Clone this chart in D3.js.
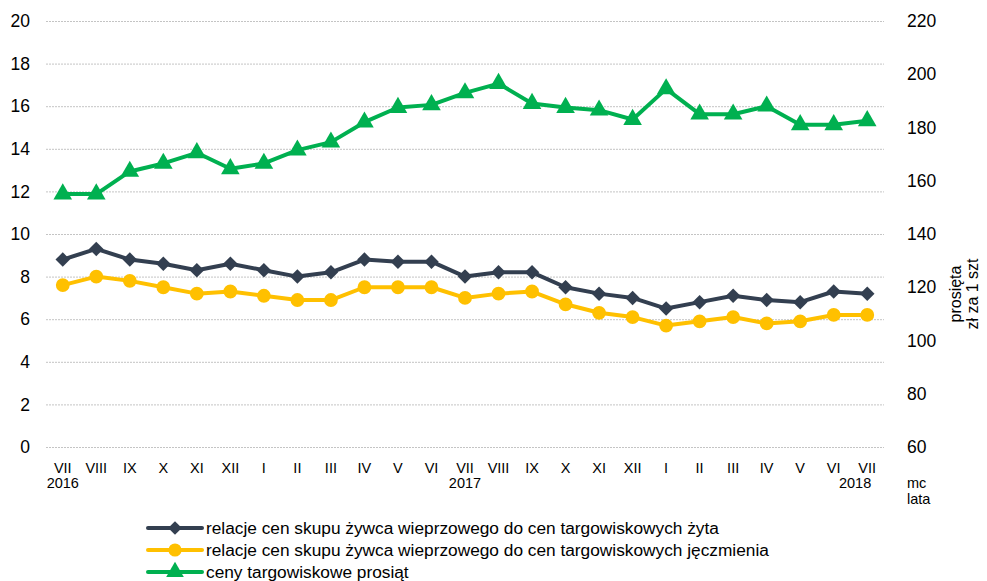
<!DOCTYPE html>
<html>
<head>
<meta charset="utf-8">
<script src="https://cdn.jsdelivr.net/npm/d3@7"></script>
<style>
  body { margin: 0; background: #fff; }
  svg { font-family: "Liberation Sans", Arial, sans-serif; }
</style>
</head>
<body>
<svg id="chart" width="987" height="581"></svg>
<script>
// Data
const months = ["VII","VIII","IX","X","XI","XII","I","II","III","IV","V","VI",
                "VII","VIII","IX","X","XI","XII","I","II","III","IV","V","VI","VII"];
const years = [{ idx: 0, label: "2016" }, { idx: 12, label: "2017" }, { idx: 24, label: "2018" }];

const rye = [8.8, 9.3, 8.8, 8.6, 8.3, 8.6, 8.3, 8.0, 8.2, 8.8, 8.7, 8.7,
             8.0, 8.2, 8.2, 7.5, 7.2, 7.0, 6.5, 6.8, 7.1, 6.9, 6.8, 7.3, 7.2];
const barley = [7.6, 8.0, 7.8, 7.5, 7.2, 7.3, 7.1, 6.9, 6.9, 7.5, 7.5, 7.5,
                7.0, 7.2, 7.3, 6.7, 6.3, 6.1, 5.7, 5.9, 6.1, 5.8, 5.9, 6.2, 6.2];
const piglets = [155, 155, 163.5, 166.5, 170.5, 164.5, 166.5, 171.5, 174.5, 182, 187.5, 188.5,
                 193, 196.5, 189, 187.5, 186.5, 183, 194.5, 185, 185, 188, 181, 181, 182.5];

const leftTicks = [0, 2, 4, 6, 8, 10, 12, 14, 16, 18, 20];
const rightTicks = [60, 80, 100, 120, 140, 160, 180, 200, 220];

const series = [
  { name: "relacje cen skupu żywca wieprzowego do cen targowiskowych żyta", values: rye, axis: "left", color: "#333F50", symbol: "diamond" },
  { name: "relacje cen skupu żywca wieprzowego do cen targowiskowych jęczmienia", values: barley, axis: "left", color: "#FFC000", symbol: "circle" },
  { name: "ceny targowiskowe prosiąt", values: piglets, axis: "right", color: "#00B050", symbol: "triangle" }
];

// marker shapes: diamond is a square turned 45 degrees
function marker(sel, type, scale) {
  if (type === "diamond") {
    sel.attr("d", d3.symbol().type(d3.symbolSquare).size(105 * scale))
      .attr("transform", function () { return d3.select(this).attr("transform") + " rotate(45)"; });
  } else if (type === "circle") {
    sel.attr("d", d3.symbol().type(d3.symbolCircle).size(150 * scale));
  } else {
    sel.attr("d", d3.symbol().type(d3.symbolTriangle).size(150 * scale));
  }
}

const svg = d3.select("#chart");
const margin = { left: 46, right: 884, top: 21, bottom: 447 };

const x = d3.scaleBand().domain(d3.range(months.length)).range([margin.left, margin.right]);
const yL = d3.scaleLinear().domain([0, 20]).range([margin.bottom, margin.top]);
const yR = d3.scaleLinear().domain([60, 220]).range([margin.bottom, margin.top]);
const cx = i => x(i) + x.bandwidth() / 2;

// gridlines
svg.append("g").selectAll("line").data(leftTicks).join("line")
  .attr("x1", margin.left).attr("x2", margin.right)
  .attr("y1", d => yL(d) + 0.5).attr("y2", d => yL(d) + 0.5)
  .attr("stroke", "#c4c4c4").attr("stroke-width", 1).attr("stroke-dasharray", "2,1");

// left axis
const gL = svg.append("g").attr("transform", `translate(${margin.left - 16},0)`)
  .call(d3.axisLeft(yL).tickValues(leftTicks).tickSize(0).tickPadding(0));
gL.select(".domain").remove();
gL.selectAll("text").attr("font-size", 17.5).attr("fill", "#000").attr("font-family", "Liberation Sans, Arial");

// right axis
const gR = svg.append("g").attr("transform", `translate(${margin.right + 23},0)`)
  .call(d3.axisRight(yR).tickValues(rightTicks).tickSize(0).tickPadding(0));
gR.select(".domain").remove();
gR.selectAll("text").attr("font-size", 17.5).attr("fill", "#000").attr("font-family", "Liberation Sans, Arial");

// x axis labels
const gX = svg.append("g").attr("font-size", 14.5).attr("fill", "#000");
gX.selectAll("text.m").data(months).join("text")
  .attr("class", "m").attr("x", (d, i) => cx(i)).attr("y", 473)
  .attr("text-anchor", "middle").text(d => d);
gX.selectAll("text.y").data(years).join("text")
  .attr("class", "y").attr("x", d => d.idx === months.length - 1 ? cx(d.idx) + 4 : cx(d.idx))
  .attr("y", 488)
  .attr("text-anchor", d => d.idx === months.length - 1 ? "end" : "middle").text(d => d.label);
gX.append("text").attr("x", 907).attr("y", 488).text("mc");
gX.append("text").attr("x", 907).attr("y", 504).text("lata");

// right axis title
const title = svg.append("text").attr("font-size", 16).attr("fill", "#000")
  .attr("transform", "translate(961,294) rotate(-90)").attr("text-anchor", "middle");
title.append("tspan").attr("x", 0).attr("dy", 0).text("prosięta");
title.append("tspan").attr("x", 0).attr("dy", 17).text("zł za 1 szt");

// series
series.forEach(s => {
  const y = s.axis === "left" ? yL : yR;
  const line = d3.line().x((d, i) => cx(i)).y(d => y(d));
  svg.append("path").datum(s.values)
    .attr("d", line).attr("fill", "none")
    .attr("stroke", s.color).attr("stroke-width", 4).attr("stroke-linejoin", "round");
  svg.append("g").selectAll("path").data(s.values).join("path")
    .attr("transform", (d, i) => `translate(${cx(i)},${y(d)})`)
    .attr("fill", s.color)
    .call(marker, s.symbol, 1);
});

// legend
const legend = svg.append("g");
series.forEach((s, i) => {
  const ly = 528 + i * 22;
  legend.append("line").attr("x1", 148).attr("x2", 202).attr("y1", ly).attr("y2", ly)
    .attr("stroke", s.color).attr("stroke-width", 4).attr("stroke-linecap", "round");
  legend.append("path").attr("transform", `translate(175,${ly})`)
    .attr("fill", s.color).call(marker, s.symbol, 0.9);
  legend.append("text").attr("x", 206).attr("y", ly + 6).attr("font-size", 17.3)
    .attr("fill", "#000").text(s.name);
});
</script>
</body>
</html>
